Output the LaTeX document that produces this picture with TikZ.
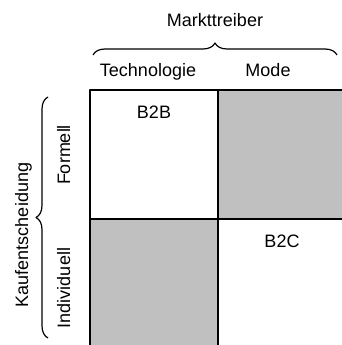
\documentclass[tikz,border=0pt]{standalone}
\usepackage{fontspec}
\setmainfont{Liberation Sans}
\usetikzlibrary{decorations.pathreplacing}
\definecolor{cellgrey}{HTML}{C0C0C0}
\tikzset{
  every picture/.style={x=1pt, y=1pt, line join=round},
  lbl/.style={font=\fontsize{18}{20}\selectfont, inner sep=0pt, anchor=base},
  gridline/.style={line width=1.5pt},
  bracket/.style={line width=1.2pt, decorate, decoration={brace, amplitude=12pt}},
}

\begin{document}
\begin{tikzpicture}
\useasboundingbox (0,0) rectangle (342,345);
\clip (0,0) rectangle (342,345);
% grey cells of the matrix
\fill[cellgrey] (218,126) rectangle (350,255);
\fill[cellgrey] (90,-5) rectangle (218,126);
\draw[gridline] (90,-5)--(90,255)--(350,255)
(218,-5)--(218,255)
(90,126)--(350,126);
% column heading
\node[lbl] (drv) at (215,318) {Markttreiber};
\draw[bracket] (93,290)--(337,290);
\node[lbl] (tech) at (148,268) {Technologie};
\node[lbl] (mode) at (268,268) {Mode};
% row heading
\node[lbl, rotate=90] (kauf) at (28,110) {Kaufentscheidung};
\draw[bracket] (48,7)--(48,248);
\node[lbl, rotate=90] (form) at (70,190) {Formell};
\node[lbl, rotate=90] (indiv) at (70,57) {Individuell};
% cell entries
\node[lbl] (btob) at (154,226) {B2B};
\node[lbl] (btoc) at (282,97) {B2C};
\end{tikzpicture}
\end{document}
